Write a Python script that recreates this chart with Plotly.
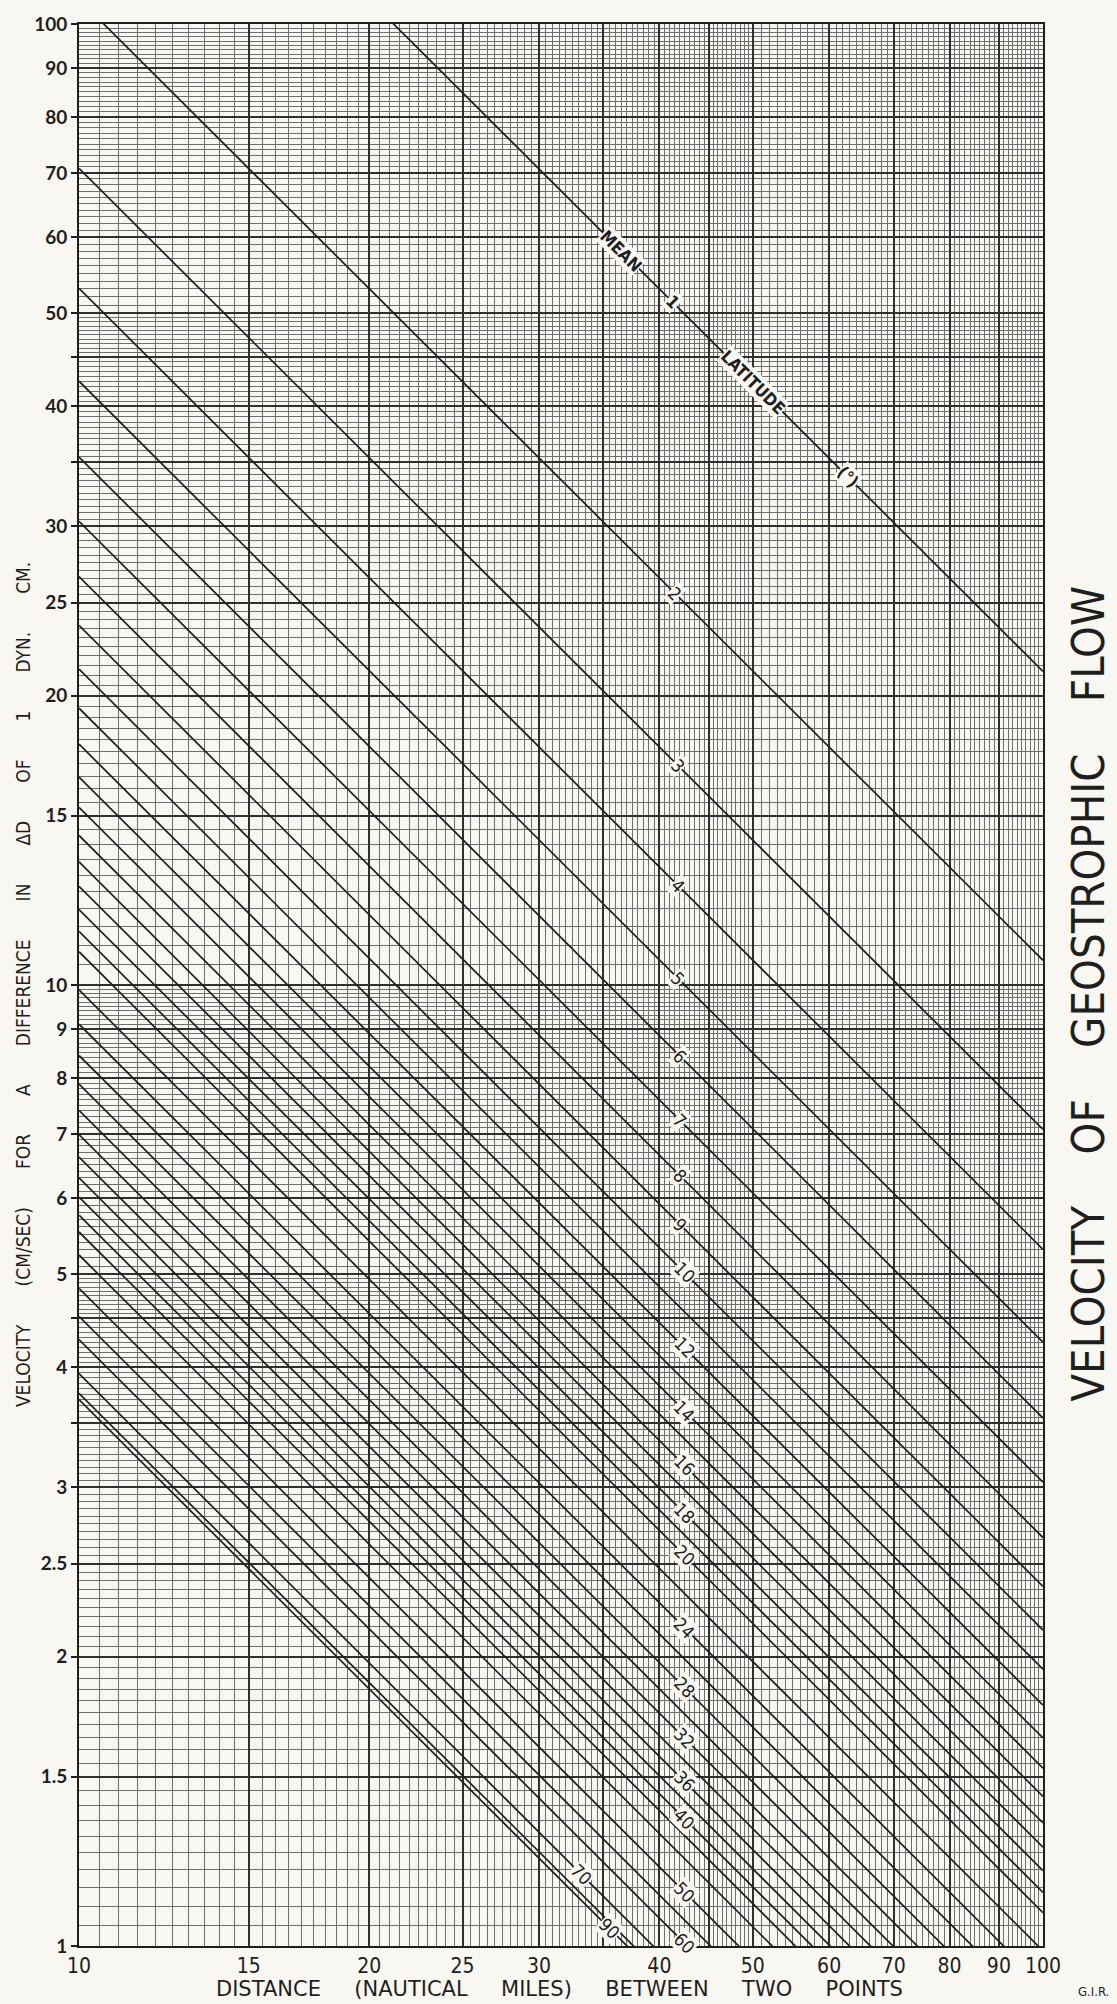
import plotly.graph_objects as go
import numpy as np

# ---------------- data ----------------
latitudes = [1, 2, 3, 4, 5, 6, 7, 8, 9, 10, 11, 12, 13, 14, 15, 16, 17, 18, 19, 20,
             22, 24, 26, 28, 30, 32, 34, 36, 38, 40, 42, 45, 50, 55, 60, 70, 80, 90]
# velocity (cm/sec) at 10 nautical miles and at 100 nautical miles, per latitude line
vel_at_10 = [212.0, 106.1, 70.75, 53.08, 42.49, 35.43, 30.38, 26.61, 23.67, 21.32,
             19.41, 17.81, 16.46, 15.31, 14.31, 13.43, 12.67, 11.98, 11.37, 10.83,
             9.885, 9.104, 8.447, 7.888, 7.406, 6.988, 6.622, 6.300, 6.015, 5.761,
             5.534, 5.237, 4.834, 4.520, 4.276, 3.941, 3.760, 3.703]
vel_at_100 = [21.20, 10.61, 7.075, 5.308, 4.249, 3.543, 3.038, 2.661, 2.367, 2.132,
              1.941, 1.781, 1.646, 1.531, 1.431, 1.343, 1.267, 1.198, 1.137, 1.083,
              0.9885, 0.9104, 0.8447, 0.7888, 0.7406, 0.6988, 0.6622, 0.6300, 0.6015, 0.5761,
              0.5534, 0.5237, 0.4834, 0.4520, 0.4276, 0.3941, 0.3760, 0.3703]
distance_ends = [10, 100]

labelled_lats = [2, 3, 4, 5, 6, 7, 8, 9, 10, 12, 14, 16, 18, 20, 24, 28, 32, 36, 40, 50, 60, 70, 90]
label_distance = [41.5, 41.8, 41.8, 41.8, 42, 42, 42, 42, 42.5, 42.5, 42.5, 42.5, 42.5, 42.5,
                  42.5, 42.5, 42.5, 42.5, 42.5, 42.5, 42.5, 33.2, 35.5]

y_tickvals = [1, 1.5, 2, 2.5, 3, 3.5, 4, 4.5, 5, 6, 7, 8, 9, 10, 15, 20, 25, 30, 35, 40, 45,
              50, 60, 70, 80, 90, 100]
y_ticktext = ["1", "1.5", "2", "2.5", "3", "", "4", "", "5", "6", "7", "8", "9", "10", "15",
              "20", "25", "30", "", "40", "", "50", "60", "70", "80", "90", "100"]
x_tickvals = [10, 15, 20, 25, 30, 35, 40, 45, 50, 60, 70, 80, 90, 100]
x_ticktext = ["10", "15", "20", "25", "30", "", "40", "", "50", "60", "70", "80", "90", "100"]

# ---------------- styling ----------------
PAPER = "#f8f7f2"
INK = "#1e1e1e"
FONT = "DejaVu Sans Condensed, DejaVu Sans, sans-serif"
WIDEFONT = "DejaVu Sans, sans-serif"
NUMFONT = "Lato, DejaVu Sans, sans-serif"


def minor_vals(scale):
    vals = []
    for v in np.arange(1.0, 2.0, 0.05):
        vals.append(round(v * scale, 6))
    for v in np.arange(2.0, 5.0, 0.05):
        vals.append(round(v * scale, 6))
    for v in np.arange(5.0, 10.0, 0.1):
        vals.append(round(v * scale, 6))
    return vals


y_minor = minor_vals(1) + minor_vals(10)
x_minor = minor_vals(10)

fig = go.Figure()

for lat, v10, v100 in zip(latitudes, vel_at_10, vel_at_100):
    fig.add_trace(go.Scatter(
        x=distance_ends, y=[v10, v100], mode="lines",
        line=dict(color=INK, width=1.7), hoverinfo="skip", showlegend=False,
        name=f"{lat}°"))

annotations = []
for lat, xd in zip(labelled_lats, label_distance):
    i = latitudes.index(lat)
    v10 = vel_at_10[i]
    yv = v10 * 10.0 / xd
    annotations.append(dict(
        x=np.log10(xd), y=np.log10(yv), xref="x", yref="y", text=str(lat),
        showarrow=False, textangle=45, bgcolor=PAPER, borderpad=0,
        font=dict(family=FONT, size=18, color=INK)))

# text along the 1 degree line
v1 = vel_at_10[0]
for txt, xd in [("MEAN", 36.5), ("1", 41.3), ("LATITUDE", 50.0), ("(°)", 62.8)]:
    annotations.append(dict(
        x=np.log10(xd), y=np.log10(v1 * 10.0 / xd), xref="x", yref="y", text=txt,
        showarrow=False, textangle=45, bgcolor=PAPER, borderpad=0,
        font=dict(family=FONT, size=17, color=INK, weight="bold")))

annotations.append(dict(
    x=-0.058, y=0.5, xref="paper", yref="paper", xanchor="center", yanchor="middle",
    text=("\u00a0" * 7).join(["VELOCITY", "(CM/SEC)", "FOR", "A", "DIFFERENCE", "IN", "ΔD",
                              "OF", "1", "DYN.", "CM."]),
    textangle=-90, showarrow=False, font=dict(family=FONT, size=19, color=INK)))
annotations.append(dict(
    x=1.047, y=0.4957, xref="paper", yref="paper", xanchor="center", yanchor="middle",
    text=("\u00a0" * 4).join(["VELOCITY", "OF", "GEOSTROPHIC", "FLOW"]),
    textangle=-90, showarrow=False, font=dict(family=FONT, size=45, color=INK)))
annotations.append(dict(
    x=0.4985, y=-0.0225, xref="paper", yref="paper", xanchor="center", yanchor="middle",
    text=("\u00a0" * 5).join(["DISTANCE", "(NAUTICAL", "MILES)", "BETWEEN", "TWO", "POINTS"]),
    showarrow=False, font=dict(family=WIDEFONT, size=21, color=INK)))
annotations.append(dict(
    x=1.0705, y=-0.0235, xref="paper", yref="paper", xanchor="right", yanchor="middle",
    text="G.I.R.", showarrow=False, font=dict(family=FONT, size=13, color=INK)))

fig.update_layout(
    width=1117, height=2004,
    margin=dict(l=79, r=74, t=22, b=58),
    paper_bgcolor=PAPER, plot_bgcolor=PAPER,
    annotations=annotations,
    showlegend=False,
)

fig.update_xaxes(
    type="log", range=[1, 2], tickmode="array", tickvals=x_tickvals, ticktext=x_ticktext,
    showgrid=True, gridcolor="#303030", gridwidth=1.5,
    minor=dict(tickvals=x_minor, showgrid=True, gridcolor="#6e6e6e", gridwidth=0.7, ticks=""),
    showline=True, linecolor=INK, linewidth=2, mirror=True, ticks="",
    tickfont=dict(family=FONT, size=21, color=INK), zeroline=False,
)
fig.update_yaxes(
    type="log", range=[0, 2], tickmode="array", tickvals=y_tickvals, ticktext=y_ticktext,
    showgrid=True, gridcolor="#303030", gridwidth=1.5,
    minor=dict(tickvals=y_minor, showgrid=True, gridcolor="#6e6e6e", gridwidth=0.7, ticks=""),
    showline=True, linecolor=INK, linewidth=2, mirror=True,
    ticks="outside", ticklen=6, tickcolor=INK, tickwidth=1.5,
    tickfont=dict(family=NUMFONT, size=19, color=INK, weight="bold"), zeroline=False,
)

fig.write_html(
    "out.html",
    config={"displayModeBar": False},
    post_script="document.body.style.margin='0';document.body.style.overflow='hidden';",
)
